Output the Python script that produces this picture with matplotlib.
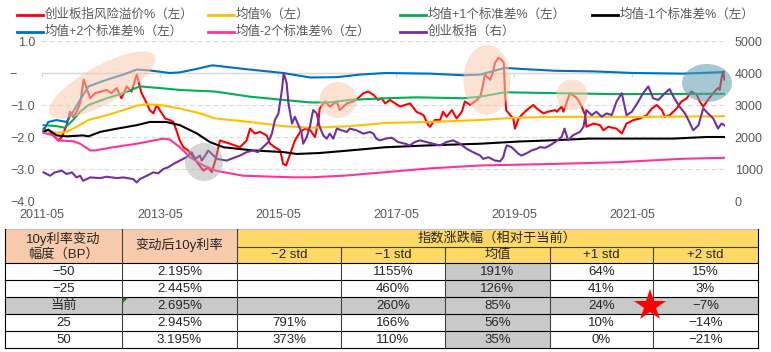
import matplotlib
matplotlib.use("Agg")
import matplotlib.pyplot as plt
from matplotlib.patches import Ellipse, Rectangle, Polygon
from matplotlib.lines import Line2D
from matplotlib.transforms import Affine2D

plt.rcParams['font.family'] = ['Liberation Sans', 'Noto Sans CJK SC', 'DejaVu Sans']

# ---------------- data (decimal year, value) ----------------
red_pts = [
    (2011.36, -1.74), (2011.47, -1.84), (2011.55, -2.00), (2011.61, -2.11), (2011.67, -2.00),
    (2011.75, -1.63), (2011.81, -1.21), (2011.86, -1.37), (2011.92, -1.21), (2011.98, -0.95),
    (2012.04, -0.21), (2012.09, -0.47), (2012.15, -0.79), (2012.23, -0.63), (2012.34, -0.58),
    (2012.43, -0.53), (2012.51, -0.63), (2012.60, -0.47), (2012.68, -0.79), (2012.77, -0.42),
    (2012.85, -0.58), (2012.94, -0.05), (2012.99, -0.42), (2013.02, -0.63), (2013.08, -0.84),
    (2013.16, -1.16), (2013.22, -1.26), (2013.28, -1.00), (2013.33, -1.16), (2013.42, -1.42),
    (2013.50, -1.47), (2013.56, -1.53), (2013.62, -1.84), (2013.67, -2.11), (2013.73, -2.32),
    (2013.81, -2.42), (2013.90, -2.63), (2013.98, -2.84), (2014.07, -3.05), (2014.15, -2.95),
    (2014.21, -3.10), (2014.27, -2.74), (2014.35, -2.11), (2014.52, -2.21), (2014.69, -2.32),
    (2014.80, -2.11), (2014.86, -1.74), (2014.94, -1.89), (2015.03, -1.84), (2015.14, -1.95),
    (2015.20, -2.21), (2015.28, -2.32), (2015.37, -2.42), (2015.42, -2.84), (2015.47, -2.89),
    (2015.54, -2.53), (2015.62, -2.11), (2015.71, -1.84), (2015.79, -1.74), (2015.88, -1.79),
    (2015.96, -2.00), (2016.02, -1.47), (2016.04, -1.11), (2016.13, -0.89), (2016.21, -1.05),
    (2016.33, -0.89), (2016.38, -1.16), (2016.50, -0.95), (2016.61, -0.89), (2016.69, -0.79),
    (2016.78, -0.63), (2016.86, -0.58), (2016.95, -0.68), (2017.03, -0.84), (2017.09, -0.79),
    (2017.15, -0.95), (2017.23, -0.84), (2017.40, -1.05), (2017.57, -0.95), (2017.68, -1.21),
    (2017.80, -1.32), (2017.88, -1.63), (2017.91, -1.68), (2017.99, -1.47), (2018.08, -1.47),
    (2018.13, -1.21), (2018.19, -1.37), (2018.28, -1.16), (2018.36, -1.42), (2018.45, -1.21),
    (2018.50, -0.89), (2018.59, -1.00), (2018.67, -0.89), (2018.76, -0.74), (2018.79, -0.53),
    (2018.84, -0.05), (2018.93, -0.21), (2018.98, 0.05), (2019.01, 0.32), (2019.07, 0.47),
    (2019.12, 0.42), (2019.16, 0.32), (2019.18, -0.63), (2019.20, -1.16), (2019.27, -1.32),
    (2019.32, -1.42), (2019.35, -1.74), (2019.41, -1.42), (2019.49, -1.26), (2019.58, -1.11),
    (2019.66, -1.00), (2019.72, -1.11), (2019.83, -1.26), (2019.91, -1.21), (2020.03, -1.16),
    (2020.06, -1.21), (2020.14, -1.05), (2020.17, -1.21), (2020.23, -0.89), (2020.28, -0.63),
    (2020.37, -0.74), (2020.42, -0.84), (2020.48, -1.05), (2020.54, -1.32), (2020.56, -1.68),
    (2020.68, -1.58), (2020.79, -1.63), (2020.85, -1.79), (2020.93, -1.68), (2021.07, -1.74),
    (2021.16, -1.89), (2021.24, -1.58), (2021.36, -1.47), (2021.47, -1.42), (2021.58, -1.32),
    (2021.67, -1.11), (2021.75, -1.00), (2021.84, -1.16), (2021.89, -1.37), (2021.97, -1.32),
    (2022.09, -1.11), (2022.17, -0.89), (2022.26, -0.79), (2022.34, -0.58), (2022.43, -0.68),
    (2022.48, -0.89), (2022.54, -1.05), (2022.62, -0.84), (2022.71, -0.63), (2022.79, -0.47),
    (2022.82, -0.53), (2022.85, -0.16), (2022.88, 0.05), (2022.90, -0.21),
]

mean_pts = [
    (2011.36, -1.79), (2011.58, -1.87), (2011.75, -1.84), (2011.86, -1.74), (2012.12, -1.47),
    (2012.43, -1.32), (2012.71, -1.16), (2012.94, -1.02), (2013.11, -0.98), (2013.33, -1.00),
    (2013.67, -1.11), (2014.01, -1.26), (2014.27, -1.42), (2014.86, -1.53), (2015.42, -1.66),
    (2015.88, -1.71), (2016.21, -1.69), (2016.55, -1.66), (2017.15, -1.56), (2017.91, -1.53),
    (2018.76, -1.47), (2019.32, -1.40), (2020.03, -1.37), (2021.64, -1.37), (2022.90, -1.35),
]

plus1_pts = [
    (2011.36, -1.63), (2011.58, -1.66), (2011.72, -1.71), (2011.86, -1.47), (2011.98, -1.21),
    (2012.12, -1.00), (2012.43, -0.79), (2012.71, -0.63), (2012.99, -0.42), (2013.33, -0.47),
    (2013.67, -0.53), (2014.27, -0.58), (2014.86, -0.74), (2015.42, -0.84), (2015.88, -0.92),
    (2016.21, -0.92), (2016.55, -0.84), (2017.15, -0.79), (2017.68, -0.76), (2018.47, -0.79),
    (2018.76, -0.74), (2019.18, -0.60), (2019.43, -0.61), (2020.03, -0.63), (2021.07, -0.66),
    (2022.90, -0.65),
]

minus1_pts = [
    (2011.36, -1.84), (2011.44, -1.77), (2011.58, -1.95), (2011.75, -1.98), (2012.03, -1.95),
    (2012.12, -1.98), (2012.32, -1.84), (2012.60, -1.74), (2012.94, -1.63), (2013.16, -1.53),
    (2013.44, -1.53), (2013.67, -1.63), (2013.96, -1.89), (2014.18, -2.16), (2014.41, -2.32),
    (2014.91, -2.42), (2015.42, -2.47), (2015.65, -2.53), (2016.04, -2.50), (2016.55, -2.42),
    (2017.15, -2.32), (2017.91, -2.26), (2018.76, -2.21), (2019.43, -2.14), (2020.03, -2.10),
    (2020.60, -2.05), (2022.03, -2.05), (2022.60, -2.00), (2022.90, -2.00),
]

plus2_pts = [
    (2011.36, -1.79), (2011.44, -1.53), (2011.58, -1.47), (2011.75, -1.53), (2011.86, -1.21),
    (2011.98, -0.84), (2012.12, -0.42), (2012.43, -0.21), (2012.71, -0.05), (2012.94, 0.11),
    (2013.16, 0.08), (2013.50, 0.00), (2013.67, 0.02), (2013.96, 0.13), (2014.22, 0.24),
    (2014.74, 0.13), (2015.42, 0.00), (2015.88, -0.14), (2016.33, -0.13), (2016.72, -0.05),
    (2017.15, 0.00), (2017.91, -0.02), (2018.47, -0.07), (2018.76, -0.05), (2019.18, 0.16),
    (2019.43, 0.13), (2020.03, 0.07), (2020.68, 0.05), (2021.36, 0.00), (2022.20, -0.02),
    (2022.90, 0.03),
]

minus2_pts = [
    (2011.36, -1.87), (2011.53, -1.95), (2011.61, -2.11), (2011.86, -2.13), (2011.98, -2.21),
    (2012.15, -2.42), (2012.23, -2.42), (2012.54, -2.32), (2012.94, -2.21), (2013.22, -2.11),
    (2013.39, -2.05), (2013.50, -2.08), (2013.67, -2.32), (2013.84, -2.63), (2014.07, -2.89),
    (2014.27, -3.05), (2014.74, -3.21), (2015.59, -3.26), (2015.88, -3.26), (2016.44, -3.21),
    (2017.15, -3.10), (2017.91, -2.98), (2018.76, -2.89), (2020.03, -2.84), (2021.07, -2.79),
    (2022.20, -2.68), (2022.90, -2.65),
]

index_pts = [
    (2011.36, 895), (2011.47, 789), (2011.55, 895), (2011.67, 947), (2011.75, 842),
    (2011.84, 895), (2011.92, 737), (2011.98, 789), (2012.03, 632), (2012.15, 737),
    (2012.32, 716), (2012.43, 758), (2012.60, 716), (2012.71, 737), (2012.88, 684),
    (2012.94, 579), (2012.99, 684), (2013.11, 789), (2013.22, 895), (2013.30, 863),
    (2013.39, 1000), (2013.47, 1053), (2013.56, 1158), (2013.67, 1263), (2013.78, 1368),
    (2013.87, 1526), (2013.93, 1316), (2014.01, 1421), (2014.04, 1263), (2014.10, 1421),
    (2014.15, 1579), (2014.24, 1421), (2014.30, 1316), (2014.46, 1263), (2014.58, 1347),
    (2014.69, 1421), (2014.80, 1526), (2014.91, 1579), (2014.99, 1526), (2015.08, 1684),
    (2015.17, 1842), (2015.23, 2105), (2015.28, 2526), (2015.34, 2737), (2015.40, 3474),
    (2015.43, 4000), (2015.48, 3684), (2015.51, 3053), (2015.54, 2737), (2015.57, 2421),
    (2015.62, 2632), (2015.68, 2368), (2015.73, 2158), (2015.76, 1789), (2015.82, 2000),
    (2015.88, 2368), (2015.90, 2579), (2015.93, 2842), (2015.99, 2737), (2016.04, 2316),
    (2016.10, 2053), (2016.16, 1947), (2016.21, 2105), (2016.27, 1947), (2016.33, 2263),
    (2016.41, 2211), (2016.50, 2158), (2016.55, 2263), (2016.66, 2211), (2016.78, 2105),
    (2016.89, 2158), (2016.95, 2105), (2017.00, 1947), (2017.06, 1895), (2017.15, 1947),
    (2017.26, 1979), (2017.37, 1842), (2017.49, 1789), (2017.57, 1737), (2017.65, 1842),
    (2017.74, 1895), (2017.85, 1842), (2017.96, 1789), (2018.08, 1737), (2018.19, 1842),
    (2018.30, 1895), (2018.42, 1789), (2018.53, 1632), (2018.64, 1526), (2018.76, 1421),
    (2018.81, 1316), (2018.90, 1368), (2019.01, 1263), (2019.10, 1242), (2019.15, 1368),
    (2019.18, 1579), (2019.21, 1737), (2019.29, 1684), (2019.35, 1579), (2019.41, 1474),
    (2019.46, 1421), (2019.55, 1495), (2019.63, 1579), (2019.72, 1632), (2019.77, 1684),
    (2019.86, 1663), (2019.94, 1737), (2020.03, 1842), (2020.14, 2000), (2020.19, 2263),
    (2020.25, 1895), (2020.33, 2053), (2020.45, 2158), (2020.51, 2316), (2020.56, 2842),
    (2020.65, 2684), (2020.73, 2789), (2020.82, 2632), (2020.90, 2737), (2020.99, 2684),
    (2021.07, 3105), (2021.16, 3368), (2021.24, 2684), (2021.33, 2789), (2021.44, 3105),
    (2021.52, 3368), (2021.61, 3579), (2021.69, 3211), (2021.78, 3158), (2021.89, 3368),
    (2021.97, 3495), (2022.05, 3211), (2022.14, 2947), (2022.23, 2737), (2022.29, 2526),
    (2022.37, 2211), (2022.46, 2368), (2022.54, 2895), (2022.62, 2737), (2022.71, 2579),
    (2022.79, 2263), (2022.85, 2421), (2022.90, 2368),
]

series_names = ['创业板指风险溢价%（左）', '均值%（左）', '均值+1个标准差%（左）', '均值-1个标准差%（左）',
                '均值+2个标准差%（左）', '均值-2个标准差%（左）', '创业板指（右）']
series_colors = ['#FF0000', '#FFC000', '#00B050', '#000000', '#0070C0', '#FF3399', '#7030A0']

xtick_pos = [2011 + 4/12, 2013 + 4/12, 2015 + 4/12, 2017 + 4/12, 2019 + 4/12, 2021 + 4/12]
xtick_labels = ['2011-05', '2013-05', '2015-05', '2017-05', '2019-05', '2021-05']
ytick_left = [1.0, 0.0, -1.0, -2.0, -3.0, -4.0]
ytick_left_labels = ['1.0', '−     ', '−1.0', '−2.0', '−3.0', '−4.0']
ytick_right = [0, 1000, 2000, 3000, 4000, 5000]
ytick_right_labels = ['0', '1000', '2000', '3000', '4000', '5000']

# table data
tbl_head_col0 = '10y利率变动\n幅度（BP）'
tbl_head_col1 = '变动后10y利率'
tbl_head_group = '指数涨跌幅（相对于当前）'
tbl_sub_heads = ['−2 std', '−1 std', '均值', '+1 std', '+2 std']
rate_change = ['−50', '−25', '当前', '25', '50']
rate_after = ['2.195%', '2.445%', '2.695%', '2.945%', '3.195%']
col_m2 = ['', '', '', '791%', '373%']
col_m1 = ['1155%', '460%', '260%', '166%', '110%']
col_mean = ['191%', '126%', '85%', '56%', '35%']
col_p1 = ['64%', '41%', '24%', '10%', '0%']
col_p2 = ['15%', '3%', '−7%', '−14%', '−21%']

# ---------------- figure ----------------
W, H = 771, 352
fig = plt.figure(figsize=(W / 100, H / 100), dpi=100)
px = Affine2D().scale(1, -1).translate(0, H)   # pixel coords, origin top-left

ax = fig.add_axes([42 / W, 1 - 201 / H, 683 / W, 160 / H])
ax.set_xlim(2011 + 4/12, 2022.909)
ax.set_ylim(-4, 1)
for s in ax.spines.values():
    s.set_visible(False)

def unzip(p):
    return [a for a, b in p], [b for a, b in p]

all_left = [red_pts, mean_pts, plus1_pts, minus1_pts, plus2_pts, minus2_pts]
for pts, col in zip(all_left, series_colors[:6]):
    t, v = unzip(pts)
    ax.plot(t, v, color=col, lw=1.5, solid_joinstyle='round', zorder=3)

ax.set_yticks(ytick_left)
ax.set_yticklabels(ytick_left_labels)
ax.grid(axis='y', color='#D9D9D9', linestyle=(0, (4, 3)), lw=0.8, zorder=0)
ax.axhline(0, color='#D9D9D9', lw=1.0, zorder=1)
ax.set_xticks(xtick_pos)
ax.set_xticklabels(xtick_labels)
ax.tick_params(axis='x', length=0, pad=6, labelsize=9, labelcolor='#595959')
ax.tick_params(axis='y', length=0, pad=5, labelsize=9, labelcolor='#595959')

# tick marks on the zero line
sec = ax.secondary_xaxis(0.8)
sec.set_xticks(xtick_pos)
sec.tick_params(axis='x', length=3, width=0.8, color='#D9D9D9', direction='out',
                bottom=True, top=False, labelbottom=False, labeltop=False)
for s in sec.spines.values():
    s.set_visible(False)

ax2 = ax.twinx()
ax2.set_ylim(0, 5000)
for s in ax2.spines.values():
    s.set_visible(False)
ti, vi = unzip(index_pts)
ax2.plot(ti, vi, color=series_colors[6], lw=1.5, zorder=3)
ax2.set_yticks(ytick_right)
ax2.set_yticklabels(ytick_right_labels)
ax2.tick_params(axis='y', length=0, pad=7, labelsize=9, labelcolor='#595959')

# highlight ellipses (pixel coordinates)
hl = [
    ((102, 85), 120, 38, -29, '#F8CBAD', 0.55),
    ((338, 100), 37, 36, 0, '#F8CBAD', 0.55),
    ((487, 80), 47, 70, 0, '#F8CBAD', 0.55),
    ((572, 95), 31, 31, 0, '#F8CBAD', 0.55),
    ((204, 162), 38, 38, 0, '#A6A6A6', 0.45),
    ((707, 83), 50, 38, 0, '#5B9BB0', 0.55),
]
for c, w, h, ang, col, a in hl:
    fig.add_artist(Ellipse(c, w, h, angle=ang, facecolor=col, edgecolor='none',
                           alpha=a, transform=px, zorder=5))

# legend (manual grid like the original)
leg_pos = [(17, 15), (208, 15), (400, 15), (592, 15), (17, 32), (208, 32), (400, 32)]
for (lx, ly), name, col in zip(leg_pos, series_names, series_colors):
    fig.add_artist(Line2D([lx, lx + 26], [ly, ly], color=col, lw=2.0, transform=px))
    fig.text(lx + 28, ly, name, transform=px, fontsize=9, color='#595959',
             ha='left', va='center')

# ---------------- table ----------------
cx = [5, 122, 237, 341, 445, 550, 653, 758]
ry = [229, 247, 263, 280, 297, 314, 331, 348]
SALMON, YELLOW, GREY = '#F8CBAD', '#FFD966', '#C9C9C9'
TXT = '#262626'

def rect(x0, y0, x1, y1, col):
    fig.add_artist(Rectangle((x0, y0), x1 - x0, y1 - y0, facecolor=col, edgecolor='none',
                             transform=px, zorder=2))

def hline(y, x0, x1, col='#000000'):
    fig.add_artist(Line2D([x0, x1], [y, y], color=col, lw=0.8, transform=px, zorder=3))

def vline(x, y0, y1, col='#404040'):
    fig.add_artist(Line2D([x, x], [y0, y1], color=col, lw=0.8, transform=px, zorder=3))

def txt(x, y, s, **kw):
    fig.text(x, y, s, transform=px, ha='center', va='center', fontsize=9.5, color=TXT,
             zorder=4, **kw)

rect(cx[0], ry[0], cx[2], ry[2], SALMON)
rect(cx[2], ry[0], cx[7], ry[2], YELLOW)
rect(cx[0], ry[4], cx[7], ry[5], GREY)
rect(cx[4], ry[2], cx[5], ry[7], GREY)

txt((cx[0] + cx[1]) / 2, (ry[0] + ry[2]) / 2, tbl_head_col0, linespacing=1.25)
txt((cx[1] + cx[2]) / 2, (ry[0] + ry[2]) / 2 - 1, tbl_head_col1)
txt((cx[2] + cx[7]) / 2, (ry[0] + ry[1]) / 2, tbl_head_group)
for j, s in enumerate(tbl_sub_heads):
    txt((cx[2 + j] + cx[3 + j]) / 2, (ry[1] + ry[2]) / 2, s)

cols = [rate_change, rate_after, col_m2, col_m1, col_mean, col_p1, col_p2]
for j, col in enumerate(cols):
    for i, s in enumerate(col):
        if s:
            txt((cx[j] + cx[j + 1]) / 2, (ry[2 + i] + ry[3 + i]) / 2 + 0.5, s)

hline(ry[0], cx[0], cx[7], '#BFBFBF')
hline(ry[1], cx[2], cx[7], '#404040')
for y in ry[2:]:
    hline(y, cx[0], cx[7])
vline(cx[0], ry[0], ry[7], '#000000')
vline(cx[1], ry[0], ry[7])
vline(cx[2], ry[0], ry[7])
for x in cx[3:7]:
    vline(x, ry[1], ry[7])
vline(cx[7], ry[0], ry[7], '#000000')

# comment marker and star
fig.add_artist(Polygon([[122.8, 297.8], [128, 297.8], [122.8, 303]], closed=True,
                       facecolor='#1E7B34', edgecolor='none', transform=px, zorder=5))
fig.add_artist(Line2D([650], [306], marker='*', markersize=24, color='#FF0000',
                      markeredgewidth=0, transform=px, zorder=6))

fig.savefig('out.png', dpi=100)
